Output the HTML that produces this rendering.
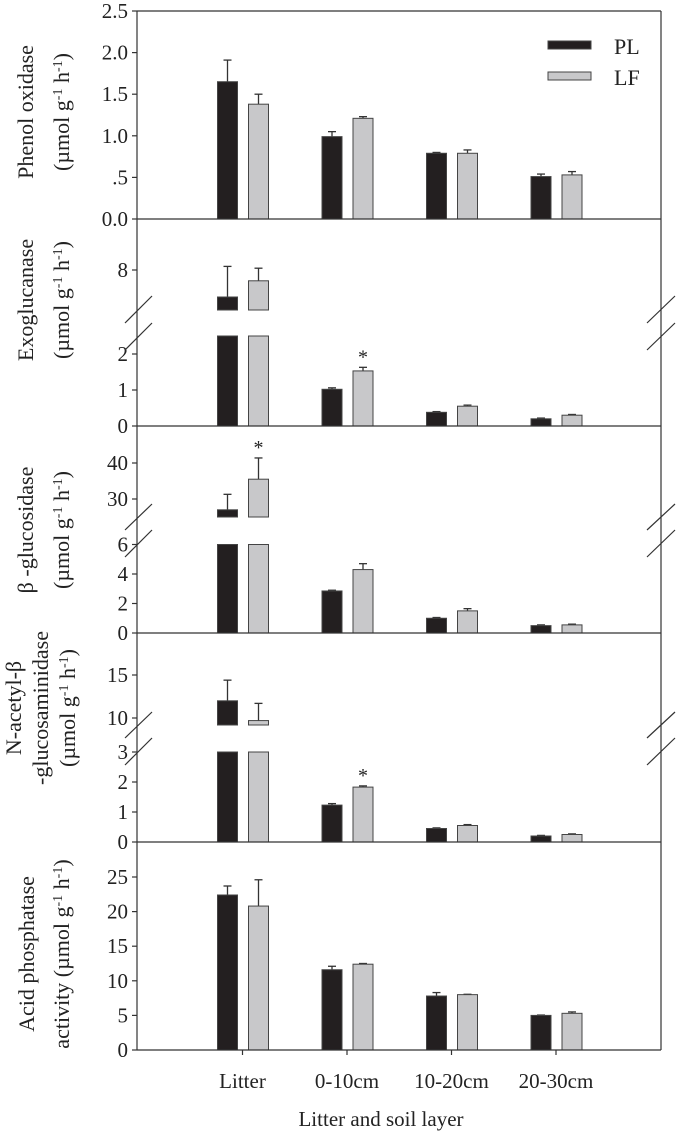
<!DOCTYPE html>
<html><head><meta charset="utf-8"><style>
body{margin:0;background:#fff}
svg{display:block}
text{font-family:"Liberation Serif",serif;fill:#222}
</style></head><body>
<svg id="chart" width="685" height="1131" viewBox="0 0 685 1131" xmlns="http://www.w3.org/2000/svg"></svg>
<script>
const categories = ["Litter","0-10cm","10-20cm","20-30cm"];
const phenolPL = [1.65,0.99,0.79,0.51], phenolPLerr=[1.91,1.05,0.80,0.54];
const phenolLF = [1.38,1.21,0.79,0.53], phenolLFerr=[1.50,1.23,0.83,0.57];
const exoPL = [7.25,1.02,0.38,0.20], exoPLerr=[8.1,1.06,0.40,0.22];
const exoLF = [7.7,1.53,0.55,0.30], exoLFerr=[8.05,1.63,0.58,0.32];
const betaPL = [27,2.85,1.0,0.5], betaPLerr=[31.3,2.9,1.05,0.55];
const betaLF = [35.5,4.3,1.5,0.55], betaLFerr=[41.4,4.7,1.65,0.6];
const nagPL = [12,1.23,0.45,0.2], nagPLerr=[14.4,1.28,0.47,0.22];
const nagLF = [9.7,1.83,0.55,0.25], nagLFerr=[11.7,1.87,0.58,0.27];
const acpPL = [22.4,11.6,7.8,5.0], acpPLerr=[23.7,12.1,8.3,5.05];
const acpLF = [20.8,12.4,8.0,5.3], acpLFerr=[24.6,12.5,8.05,5.5];
const phenolTicks=[0,0.5,1,1.5,2,2.5], phenolTickLabels=["0.0",".5","1.0","1.5","2.0","2.5"];
const exoTicksLow=[0,1,2], exoTicksHigh=[8];
const betaTicksLow=[0,2,4,6], betaTicksHigh=[30,40];
const nagTicksLow=[0,1,2,3], nagTicksHigh=[10,15];
const acpTicks=[0,5,10,15,20,25];

const svg=document.getElementById('chart');
const NS='http://www.w3.org/2000/svg';
function mk(tag,attrs,parent){const e=document.createElementNS(NS,tag);for(const k in attrs)e.setAttribute(k,attrs[k]);(parent||svg).appendChild(e);return e;}
const XL=137,XR=661;
function xCenter(i){return 242.5+i*104.5;}
const UNIT='UNIT';

const panels=[
 {name:'phenol-oxidase',top:11,base:219,pl:phenolPL,plE:phenolPLerr,lf:phenolLF,lfE:phenolLFerr,
  low:{v0:0,y0:219,k:83.2,cut:null},ticks:phenolTicks,labels:phenolTickLabels,high:null,
  title:["Phenol oxidase",[UNIT,""]],tx:[26,62],ty:112,stars:[]},
 {name:'exoglucanase',top:219,base:426,pl:exoPL,plE:exoPLerr,lf:exoLF,lfE:exoLFerr,
  low:{v0:0,y0:426,k:36,cut:2.5},ticks:exoTicksLow,high:{v0:8,y0:270,k:36,cutY:310,ticks:exoTicksHigh},
  brk:[296,323,350],title:["Exoglucanase",[UNIT,""]],tx:[26,62],ty:300,stars:[[1,1]]},
 {name:'beta-glucosidase',top:426,base:633,pl:betaPL,plE:betaPLerr,lf:betaLF,lfE:betaLFerr,
  low:{v0:0,y0:633,k:14.75,cut:6},ticks:betaTicksLow,high:{v0:40,y0:463,k:3.6,cutY:517,ticks:betaTicksHigh},
  brk:[504,530,557],title:["β -glucosidase",[UNIT,""]],tx:[26,62],ty:530,stars:[[0,1]]},
 {name:'n-acetyl-glucosaminidase',top:633,base:842,pl:nagPL,plE:nagPLerr,lf:nagLF,lfE:nagLFerr,
  low:{v0:0,y0:842,k:30,cut:3},ticks:nagTicksLow,high:{v0:15,y0:675,k:8.6,cutY:725,ticks:nagTicksHigh},
  brk:[712,738,765],title:["N-acetyl-β","-glucosaminidase",[UNIT,""]],tx:[14,41,68],ty:708,stars:[[1,1]]},
 {name:'acid-phosphatase',top:842,base:1050,pl:acpPL,plE:acpPLerr,lf:acpLF,lfE:acpLFerr,
  low:{v0:0,y0:1050,k:6.92,cut:null},ticks:acpTicks,high:null,
  title:["Acid phosphatase",[UNIT,"activity "]],tx:[27,62],ty:954,stars:[]}
];

function yOf(p,v){ if(!p.high||v<=p.low.cut) return p.low.y0-(v-p.low.v0)*p.low.k; return p.high.y0-(v-p.high.v0)*p.high.k; }

function addSpan(parent,txt,sup){
 const s=mk('tspan',sup?{'font-size':14,'baseline-shift':'super'}:{},parent);
 s.textContent=txt;
}

panels.forEach(p=>{
 const g=mk('g',{});
 
 
 [[p.pl,p.plE,'#231f20',-25,'pl'],[p.lf,p.lfE,'#c8c8ca',6,'lf']].forEach(([vals,errs,fill,off,s])=>{
  vals.forEach((v,i)=>{
   const x=xCenter(i)+off,w=20;
   const yv=yOf(p,v), ye=yOf(p,errs[i]);
   const e=mk('line',{x1:x+w/2,x2:x+w/2,y1:yv,y2:ye,stroke:'#333','stroke-width':1.3},g);
   
   
   const c=mk('line',{x1:x+w/2-4,x2:x+w/2+4,y1:ye,y2:ye,stroke:'#333','stroke-width':1.3},g);
   
   
   if(p.high && v>p.low.cut){
    const yc=p.low.y0-p.low.cut*p.low.k;
    const r1=mk('rect',{x:x,y:yc,width:w,height:p.base-yc,fill:fill,stroke:'#444','stroke-width':1},g);
    
    
    const r2=mk('rect',{x:x,y:yv,width:w,height:p.high.cutY-yv,fill:fill,stroke:'#444','stroke-width':1},g);
    
    
   } else {
    const r=mk('rect',{x:x,y:yv,width:w,height:p.base-yv,fill:fill,stroke:'#444','stroke-width':1},g);
    
    
   }
  });
 });
 const tickSets=[[p.ticks,v=>p.low.y0-(v-p.low.v0)*p.low.k,p.labels]];
 if(p.high) tickSets.push([p.high.ticks,v=>p.high.y0-(v-p.high.v0)*p.high.k,null]);
 tickSets.forEach(([ts,f,labs])=>{
  ts.forEach((v,j)=>{
   const y=f(v);
   const t=mk('line',{x1:132,x2:XL,y1:y,y2:y,stroke:'#333','stroke-width':1.2},g);
   
   
   const tx=mk('text',{x:128,y:y+7,'text-anchor':'end','font-size':21},g);
   
   
   tx.textContent=labs?labs[j]:String(v);
  });
 });
 if(p.brk){
  [[125,152],[647,675]].forEach(([a,b])=>{
   [[p.brk[1],p.brk[0]],[p.brk[2],p.brk[1]]].forEach(([y1,y2])=>{
    const l=mk('line',{x1:a,y1:y1,x2:b,y2:y2,stroke:'#333','stroke-width':1.2},g);
    
    
   });
  });
 }
 p.title.forEach((t,j)=>{
  const x=p.tx[j];
  const tt=mk('text',{x:x,y:p.ty,'text-anchor':'middle','font-size':22,transform:`rotate(-90 ${x} ${p.ty}) translate(0 7)`},g);
  
  
  if(Array.isArray(t)){
   addSpan(tt,t[1]+'(µmol g',false);addSpan(tt,'-1',true);addSpan(tt,' h',false);addSpan(tt,'-1',true);addSpan(tt,')',false);
  } else tt.textContent=t;
 });
 p.stars.forEach(([i,s])=>{
  const x=xCenter(i)+(s?16:-15);
  const ye=yOf(p,(s?p.lfE:p.plE)[i]);
  const st=mk('text',{x:x,y:ye-4,'text-anchor':'middle','font-size':20},g);
  
  
  st.textContent='*';
 });
});
[11,219,426,633,842,1050].forEach(y=>{
 const l=mk('line',{x1:XL,x2:XR,y1:y,y2:y,stroke:'#333','stroke-width':1.2});
 
 
});
const la=mk('line',{x1:XL,x2:XL,y1:11,y2:1050,stroke:'#333','stroke-width':1.2});


const ra=mk('line',{x1:XR,x2:XR,y1:11,y2:1050,stroke:'#333','stroke-width':1.2});


categories.forEach((c,i)=>{
 const x=xCenter(i);
 const t=mk('line',{x1:x,x2:x,y1:1050,y2:1055,stroke:'#333','stroke-width':1.2});
 
 
 const tx=mk('text',{x:x,y:1088,'text-anchor':'middle','font-size':21});
 
 
 tx.textContent=c;
});
const xt=mk('text',{x:381,y:1126,'text-anchor':'middle','font-size':21});


xt.textContent='Litter and soil layer';
[['PL','#231f20',41],['LF','#c8c8ca',72]].forEach(([n,f,y])=>{
 const r=mk('rect',{x:548,y:y,width:43,height:8,fill:f,stroke:'#444','stroke-width':1});
 
 
 const t=mk('text',{x:614,y:y+13,'font-size':22});
 
 
 t.textContent=n;
});
</script>
</body></html>
